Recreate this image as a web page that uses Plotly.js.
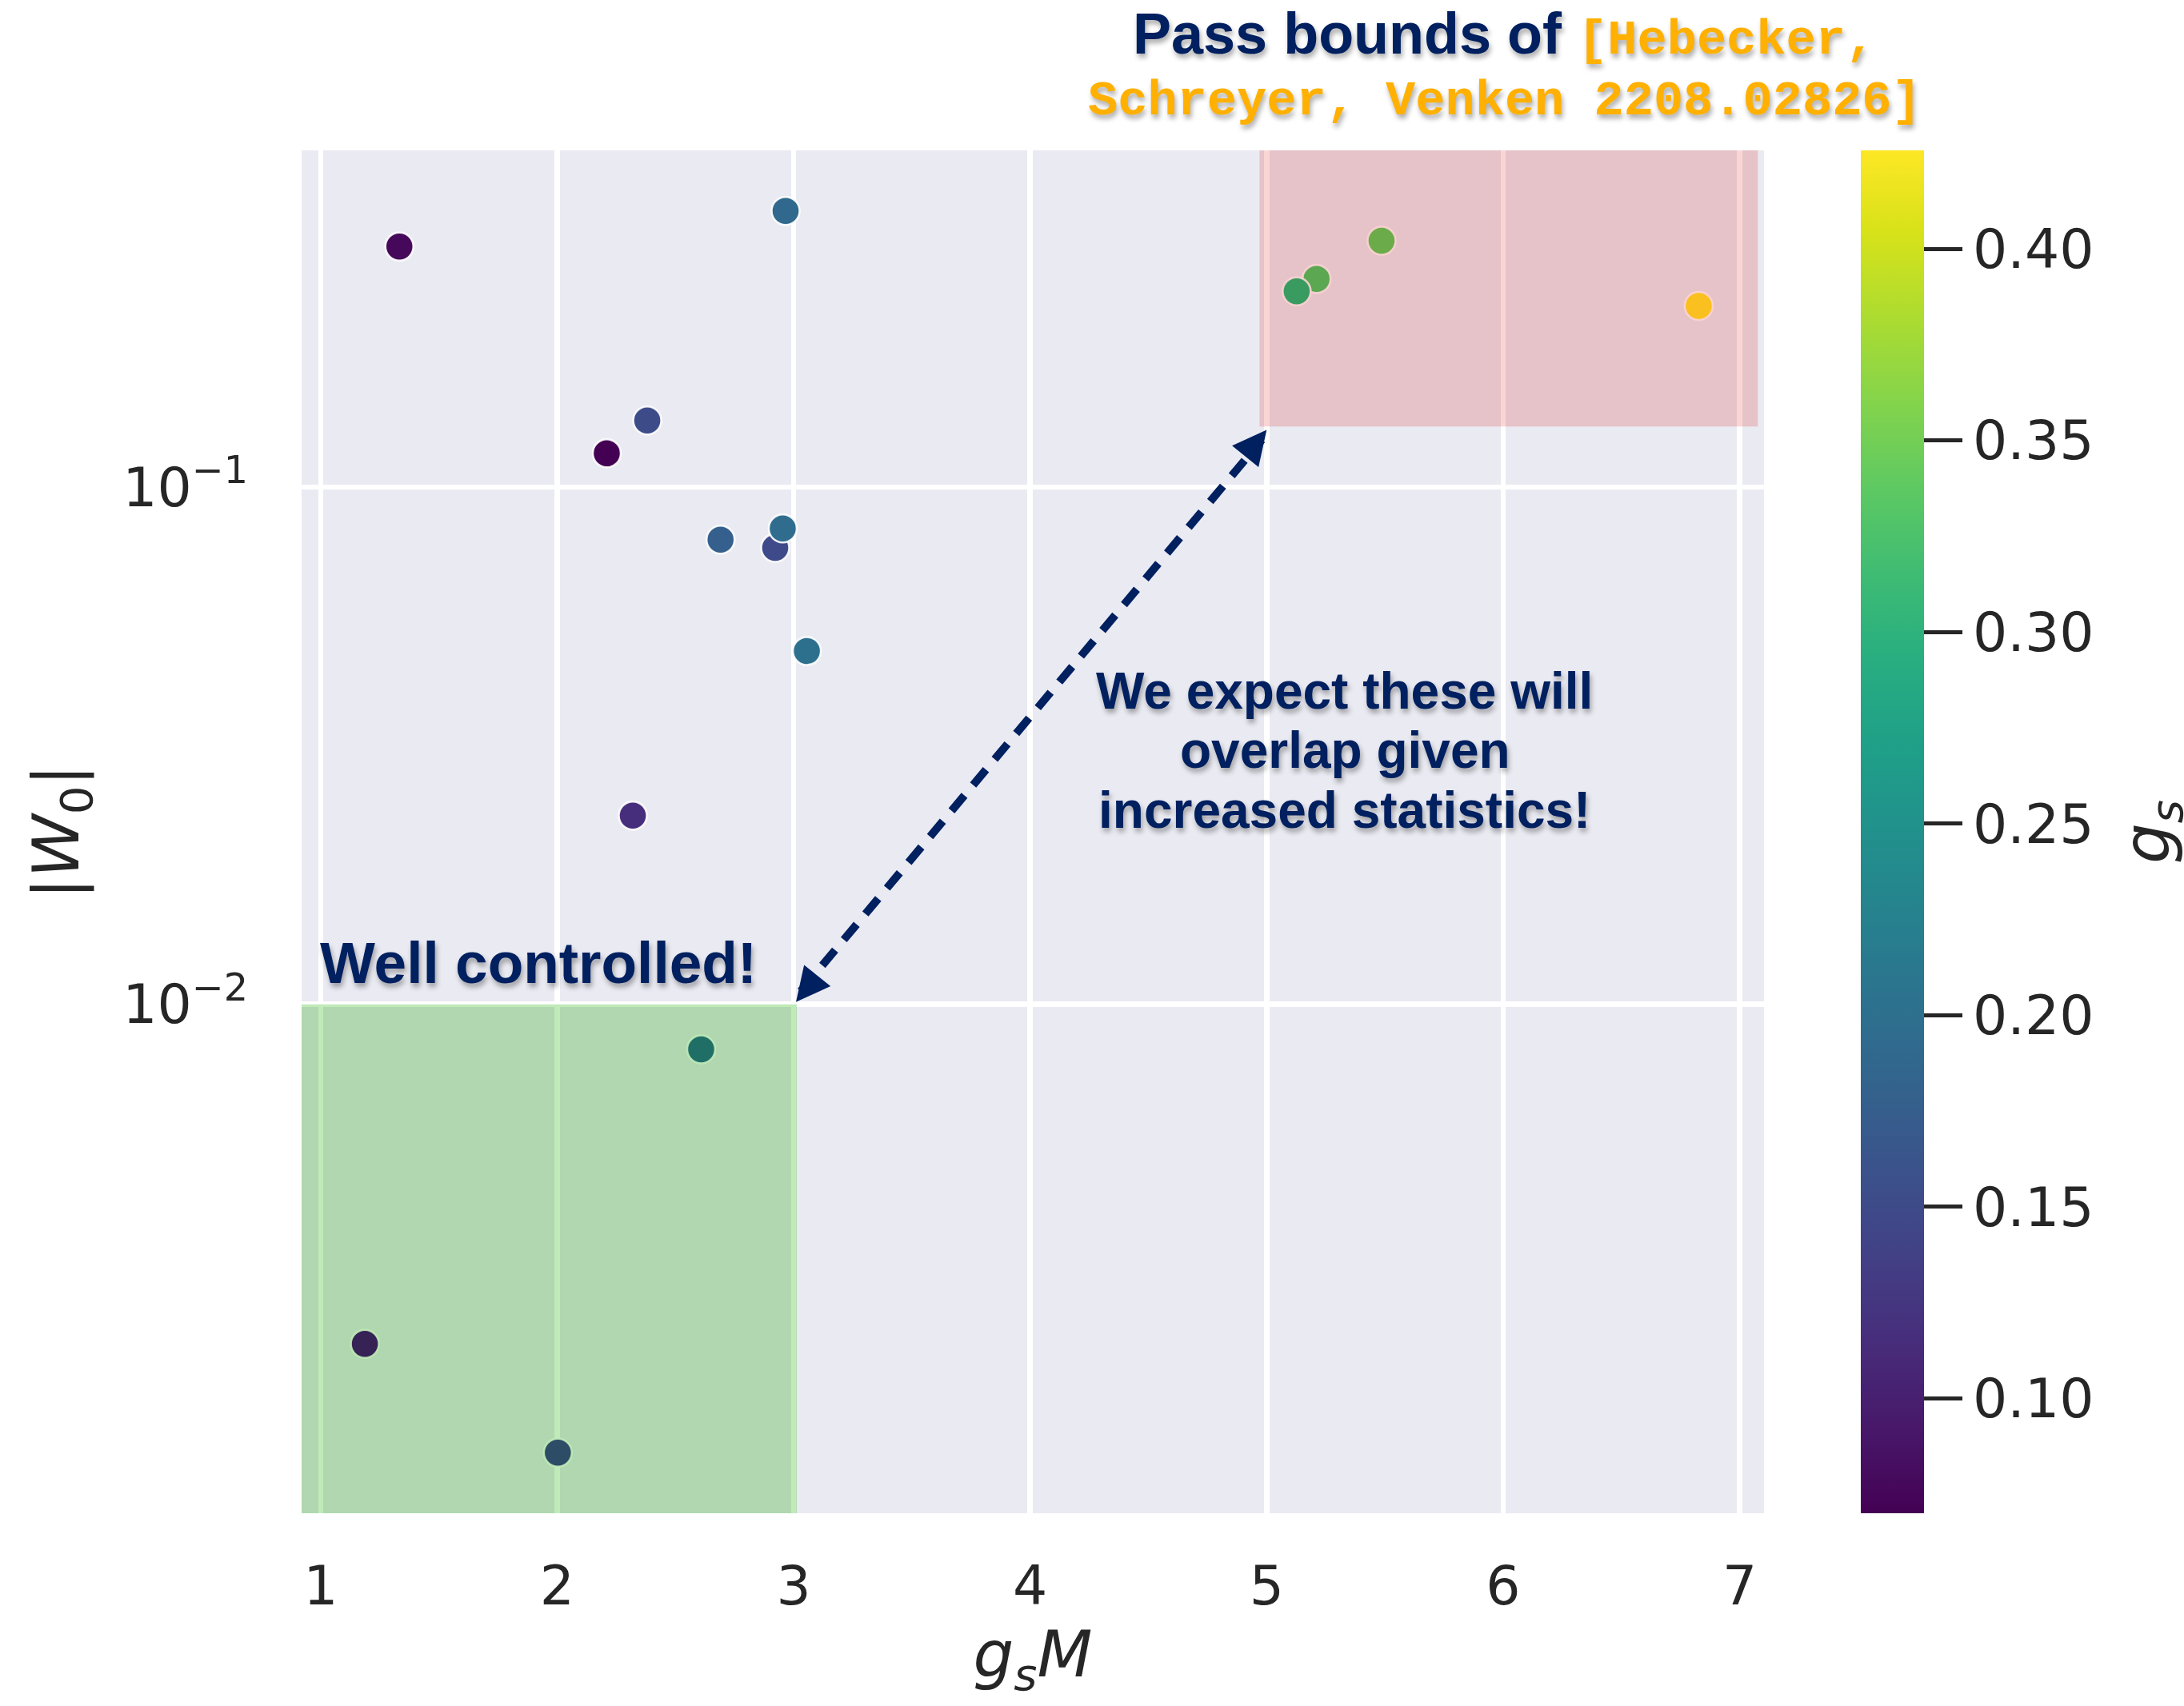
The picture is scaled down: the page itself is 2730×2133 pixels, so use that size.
<!DOCTYPE html>
<html>
<head>
<meta charset="utf-8">
<script src="https://cdn.plot.ly/plotly-3.0.1.min.js"></script>
<style>
  html, body { margin: 0; padding: 0; background: #ffffff; }
  #chart { width: 2730px; height: 2133px; }
  .layer-above .shapelayer [data-index="0"],
  .layer-above .shapelayer [data-index="1"] { mix-blend-mode: multiply; }
</style>
</head>
<body>
<div id="chart"></div>
<script>
// ---- data ----
const gsM = [1.333, 2.966, 2.381, 2.210, 2.691, 2.922, 2.954, 3.056, 2.320, 2.609, 1.187, 2.003, 5.211, 5.127, 5.486, 6.827];
const W0  = [0.2917, 0.342, 0.1345, 0.1162, 0.0791, 0.0763, 0.0832, 0.0482, 0.02317, 0.00818, 0.002205, 0.001359, 0.2525, 0.2391, 0.2995, 0.224];
const gs  = [0.077, 0.191, 0.152, 0.070, 0.177, 0.149, 0.1945, 0.2016, 0.116, 0.212, 0.105, 0.159, 0.337, 0.312, 0.347, 0.4257];

const xTicks = [1, 2, 3, 4, 5, 6, 7];
const yTicks = [0.01, 0.1];
const yTickText = ['10<sup>\u22122</sup>', '10<sup>\u22121</sup>'];
const cbTicks = [0.10, 0.15, 0.20, 0.25, 0.30, 0.35, 0.40];

// ---- layout geometry ----
const W = 2730, H = 2133;
const M = { l: 377, r: 525, t: 188, b: 241 };
const PW = W - M.l - M.r, PH = H - M.t - M.b;
const px2x = p => (p - M.l) / PW;
const py2y = p => (H - M.b - p) / PH;

const navy = '#002060';
const orange = '#FFB000';
const ink = '#262626';
const shadow = '2px 5px 6px rgba(0,0,0,0.33)';

const xRange = [0.9195, 7.103];
const yRangeLog = [-2.984, -0.349];

const trace = {
  type: 'scatter',
  mode: 'markers',
  x: gsM,
  y: W0,
  marker: {
    symbol: 'circle',
    size: 35,
    color: gs,
    colorscale: 'Viridis',
    line: { color: 'rgba(255,255,255,0.9)', width: 2.5 },
    showscale: true,
    colorbar: {
      thickness: 79, thicknessmode: 'pixels',
      len: 1, lenmode: 'fraction',
      x: 2325.7 / W, xref: 'container', xanchor: 'left', xpad: 0,
      y: 0.5, yref: 'paper', yanchor: 'middle', ypad: 0,
      outlinewidth: 0,
      tickvals: cbTicks,
      tickformat: '.2f',
      ticks: 'outside', ticklen: 48, tickwidth: 5, tickcolor: ink,
      tickfont: { family: 'DejaVu Sans', size: 68, color: ink }
    }
  },
  hoverinfo: 'x+y'
};

const layout = {
  width: W, height: H,
  margin: M,
  paper_bgcolor: '#ffffff',
  plot_bgcolor: '#EAEAF2',
  showlegend: false,
  xaxis: {
    range: xRange,
    tickvals: xTicks,
    showgrid: true, gridcolor: '#ffffff', gridwidth: 6.5,
    zeroline: false, showline: false, ticks: '',
    ticklabelstandoff: 45,
    tickfont: { family: 'DejaVu Sans', size: 68, color: ink },
    title: { text: '<i>g</i><sub><i>s</i></sub><i>M</i>', font: { family: 'DejaVu Sans', size: 80, color: ink }, standoff: 14 },
    automargin: false
  },
  yaxis: {
    type: 'log',
    range: yRangeLog,
    tickmode: 'array',
    tickvals: yTicks,
    ticktext: yTickText,
    showgrid: true, gridcolor: '#ffffff', gridwidth: 6.5,
    zeroline: false, showline: false, ticks: '',
    ticklabelstandoff: 66,
    tickfont: { family: 'DejaVu Sans', size: 68, color: ink },
    title: { text: '|<i>W</i><sub>0</sub>|', font: { family: 'DejaVu Sans', size: 80, color: ink }, standoff: 28 },
    automargin: false
  },
  shapes: [
    // overlays: drawn above the markers, multiplied onto what lies below
    { type: 'rect', layer: 'above', xref: 'x', yref: 'y',
      x0: xRange[0] - 0.05, x1: 3.013, y0: 1e-4, y1: 0.01,
      fillcolor: 'rgba(150,222,139,0.6)', line: { width: 0 } },
    { type: 'rect', layer: 'above', xref: 'x', yref: 'y',
      x0: 4.97, x1: 7.077, y0: 0.131, y1: 1,
      fillcolor: 'rgba(248,184,183,0.6)', line: { width: 0 } },
    { type: 'line', layer: 'above', xref: 'x', yref: 'y',
      x0: 3.03, y0: 0.0106, x1: 4.98, y1: 0.1235,
      line: { color: navy, width: 10, dash: '25px,17px' } }
  ],
  annotations: [
    { xref: 'paper', yref: 'paper', x: px2x(1880), y: py2y(44), xanchor: 'center', yanchor: 'middle',
      showarrow: false,
      text: 'Pass bounds of <span style="font-family:\'Liberation Mono\';font-size:62px;color:' + orange + '">[Hebecker,</span>',
      font: { family: 'Liberation Sans', size: 72, color: navy, weight: 'bold', shadow: shadow } },
    { xref: 'paper', yref: 'paper', x: px2x(1881), y: py2y(127), xanchor: 'center', yanchor: 'middle',
      showarrow: false,
      text: 'Schreyer, Venken 2208.02826]',
      font: { family: 'Liberation Mono', size: 62, color: orange, weight: 'bold', shadow: shadow } },
    { xref: 'paper', yref: 'paper', x: px2x(398), y: py2y(1203), xanchor: 'left', yanchor: 'middle',
      showarrow: false,
      text: 'Well controlled!',
      font: { family: 'Liberation Sans', size: 73, color: navy, weight: 'bold', shadow: shadow } },
    { xref: 'paper', yref: 'paper', x: px2x(1680), y: py2y(863.5), xanchor: 'center', yanchor: 'middle',
      showarrow: false, text: 'We expect these will',
      font: { family: 'Liberation Sans', size: 64, color: navy, weight: 'bold', shadow: shadow } },
    { xref: 'paper', yref: 'paper', x: px2x(1681), y: py2y(938.4), xanchor: 'center', yanchor: 'middle',
      showarrow: false, text: 'overlap given',
      font: { family: 'Liberation Sans', size: 64, color: navy, weight: 'bold', shadow: shadow } },
    { xref: 'paper', yref: 'paper', x: px2x(1680), y: py2y(1013.3), xanchor: 'center', yanchor: 'middle',
      showarrow: false, text: 'increased statistics!',
      font: { family: 'Liberation Sans', size: 64, color: navy, weight: 'bold', shadow: shadow } },
    // arrow heads of the dashed double arrow
    { xref: 'x', yref: 'y', x: 5.0, y: Math.log10(0.129), text: '', showarrow: true,
      ax: -25, ay: 31, arrowhead: 2, arrowsize: 0.85, arrowwidth: 10, arrowcolor: navy, standoff: 0 },
    { xref: 'x', yref: 'y', x: 3.01, y: Math.log10(0.0101), text: '', showarrow: true,
      ax: 25, ay: -31, arrowhead: 2, arrowsize: 0.85, arrowwidth: 10, arrowcolor: navy, standoff: 0 },
    // colorbar label
    { xref: 'paper', yref: 'paper', x: px2x(2689), y: 0.5, xanchor: 'center', yanchor: 'middle',
      showarrow: false, textangle: -90,
      text: '<i>g</i><sub><i>s</i></sub>',
      font: { family: 'DejaVu Sans', size: 80, color: ink } }
  ]
};

Plotly.newPlot('chart', [trace], layout, { displayModeBar: false, staticPlot: true }).then(gd => {
  const layer = gd.querySelector('.layer-above .shapelayer');
  if (layer) {
    const kids = Array.from(layer.children);
    kids.forEach((el, i) => {
      if (i < 2) {
        el.style.mixBlendMode = 'multiply';
        el.querySelectorAll('*').forEach(c => { c.style.mixBlendMode = 'multiply'; });
      }
    });
  }
});
</script>
</body>
</html>
